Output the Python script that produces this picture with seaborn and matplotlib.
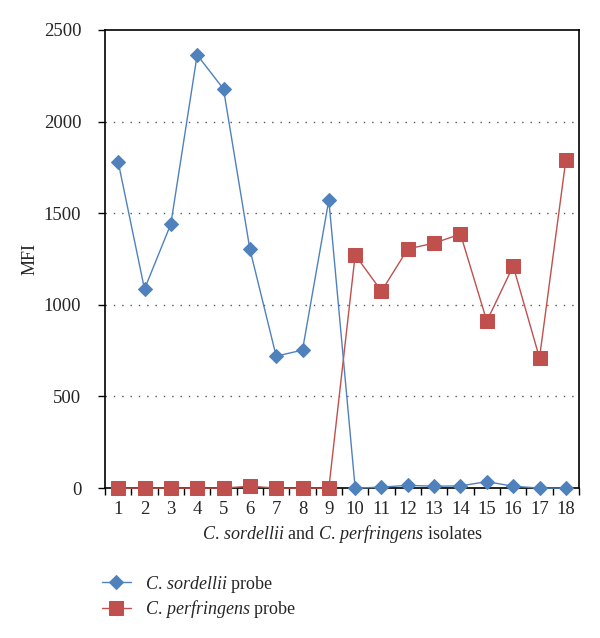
import matplotlib
matplotlib.use("Agg")
import matplotlib.pyplot as plt
import seaborn as sns
import pandas as pd
import numpy as np

isolates = list(range(1, 19))
sordellii = [1780, 1086, 1441, 2364, 2178, 1305, 720, 753, 1572,
             0, 5, 15, 10, 12, 35, 10, 0, 0]
perfringens = [0, 0, 0, 0, 0, 10, 0, 0, 0,
               1272, 1075, 1305, 1337, 1386, 911, 1212, 710, 1790]
yticks = [0, 500, 1000, 1500, 2000, 2500]

sns.set_theme(style="white")
plt.rcParams['font.family'] = ['Liberation Serif', 'DejaVu Serif']
plt.rcParams['mathtext.fontset'] = 'custom'
plt.rcParams['mathtext.rm'] = 'Liberation Serif'
plt.rcParams['mathtext.it'] = 'Liberation Serif:italic'

lab_s = r"$\mathit{C.\,sordellii}$ probe"
lab_p = r"$\mathit{C.\,perfringens}$ probe"

df_s = pd.DataFrame({"isolate": isolates, "MFI": sordellii})
df_p = pd.DataFrame({"isolate": isolates, "MFI": perfringens})

fig = plt.figure(figsize=(6.0, 6.38), dpi=100)
ax = fig.add_axes([0.175, 0.235, 0.79, 0.718])

blue = "#4F81BD"
red = "#C0504D"

sns.lineplot(data=df_s, x="isolate", y="MFI", ax=ax, color=blue, marker="D",
             markersize=7.6, markeredgecolor=blue, linewidth=1.0, label=lab_s,
             zorder=4, clip_on=False)
sns.lineplot(data=df_p, x="isolate", y="MFI", ax=ax, color=red, marker="s",
             markersize=10.5, markeredgecolor=red, linewidth=1.0, label=lab_p,
             zorder=3, clip_on=False)

ax.set_xlim(0.5, 18.5)
ax.set_ylim(0, 2500)
ax.set_yticks(yticks)
ax.set_yticklabels([str(v) for v in yticks], fontsize=13.5)
ax.set_xticks(isolates)
ax.set_xticklabels([str(v) for v in isolates], fontsize=13.5)
ax.set_xticks(np.arange(0.5, 19.0, 1.0), minor=True)
ax.tick_params(axis='x', which='major', length=0, pad=9)
ax.tick_params(axis='x', which='minor', length=5, width=1, direction='out', color='black', bottom=True)
ax.tick_params(axis='y', which='major', length=5, width=1, direction='out', color='black',
               left=True, pad=12)

for v in yticks[1:-1]:
    ax.axhline(v, color='#555555', linestyle=(0, (1, 5)), linewidth=1.0, zorder=1)

for s in ax.spines.values():
    s.set_color('black')
    s.set_linewidth(1.2)
    s.set_visible(True)

ax.set_ylabel("MFI", fontsize=13, labelpad=4)
ax.set_xlabel(r"$\mathit{C.\,sordellii}$ and $\mathit{C.\,perfringens}$ isolates",
              fontsize=13, labelpad=4)

ax.get_legend().remove()
h, l = ax.get_legend_handles_labels()
fig.legend(h, l, loc='upper left', bbox_to_anchor=(0.158, 0.112), frameon=False,
           fontsize=13, handlelength=1.6, handletextpad=0.8, labelspacing=0.2, borderaxespad=0)

fig.savefig("out.png", dpi=100)
